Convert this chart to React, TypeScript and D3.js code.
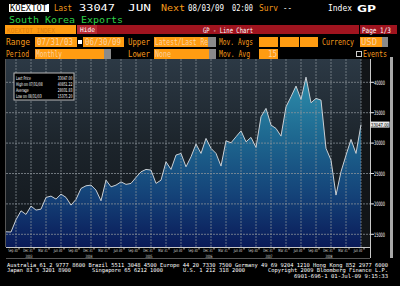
import React from 'react';
import * as d3 from 'd3';

// South Korea Exports, monthly, Jul 2003 .. Jun 2009
const startMonth = new Date(2003, 6, 1);
const exportsValues = [
  15410, 15375.2, 17400, 18860, 18270, 19640,
  18980, 19140, 21070, 21280, 20790, 21610, 21070, 19800, 20740, 22540, 22980, 23090,
  22270, 20510, 23910, 22810, 23090, 23630, 23210, 23370, 24360, 25280, 25670, 25560,
  23370, 23910, 26930, 25670, 28030, 28300, 26100, 27750, 29840, 28300, 30770, 29130,
  28310, 26220, 30380, 30050, 31040, 32020, 30210, 30940, 29290, 34330, 35710, 32960,
  32410, 31150, 35970, 37620, 39380, 37190, 40851.22, 36630, 37350, 37070, 29130, 27200,
  21450, 25300, 28000, 30600, 28300, 33047,
];
const yTicks = [15000, 20000, 25000, 30000, 35000, 40000];
const yearLabels = ['2003', '2004', '2005', '2006', '2007', '2008'];
const legendLabels = ['Last Price', 'High on 07/31/08', 'Average', 'Low on 08/31/03'];
const legendValues = ['33047.00', '40851.22', '28031.83', '15375.20'];
const footerLines = [
  'Australia 61 2 9777 8600 Brazil 5511 3048 4500 Europe 44 20 7330 7500 Germany 49 69 9204 1210 Hong Kong 852 2977 6000',
];

const ORANGE = '#f59a1b';
const BOX = '#ff9c12';
const BOXTXT = '#fbd2a0';
const FONT = "'DejaVu Sans Mono', monospace";

type TP = { x: number; y: number; w?: number; s?: number; fill?: string; anchor?: string; weight?: any; children: any; font?: string };
const T = ({ x, y, w, s = 8, fill = '#fff', anchor = 'start', weight = 'normal', children, font = FONT }: TP) => (
  <text x={x} y={y} fontSize={s} fill={fill} textAnchor={anchor} fontWeight={weight} fontFamily={font}
    {...(w ? { textLength: w, lengthAdjust: 'spacingAndGlyphs' } : {})}>{children}</text>
);

// horizontally compressed text (scaled group) for very narrow labels
const SqT = ({ x, y, sx, s, anchor = 'start', fill = '#fff', children }: { x: number; y: number; sx: number; s: number; anchor?: string; fill?: string; children: any }) => (
  <g transform={`translate(${x},${y}) scale(${sx},1)`}>
    <text x={0} y={0} fontSize={s} fill={fill} textAnchor={anchor} fontFamily="'DejaVu Sans', sans-serif">{children}</text>
  </g>
);

export default function App() {
  const months = exportsValues.map((_, i) => d3.timeMonth.offset(startMonth, i));
  const plotL = 6, plotR = 370, plotT = 59, plotB = 247;
  const x = d3.scalePoint<number>().domain(d3.range(exportsValues.length)).range([6, 361]);
  const y = d3.scaleLinear().domain([15000, 40000]).range([234.3, 82.3]);
  const area = d3.area<number>().x((_, i) => x(i)!).y0(plotB).y1(d => y(d));
  const line = d3.line<number>().x((_, i) => x(i)!).y(d => y(d));
  const quarterIdx = months.map((m, i) => ({ m, i })).filter(d => d.m.getMonth() % 3 === 2);
  const fmt = d3.timeFormat('%b %d');
  const monthEnd = (m: Date) => d3.timeDay.offset(d3.timeMonth.offset(m, 1), -1);
  const decIdx = quarterIdx.filter(d => d.m.getMonth() === 11);

  return (
    <svg width={400} height={286} style={{ position: 'absolute', left: 0, top: 0, display: 'block' }}>
      <defs>
        <linearGradient id="bgG" gradientUnits="userSpaceOnUse" x1="0" y1={plotT} x2="0" y2={plotB}>
          <stop offset="0" stopColor="#2c3945" />
          <stop offset="0.45" stopColor="#1c242b" />
          <stop offset="1" stopColor="#10151a" />
        </linearGradient>
        <linearGradient id="fillG" gradientUnits="userSpaceOnUse" x1="0" y1="77" x2="0" y2={plotB}>
          <stop offset="0" stopColor="#2e8eac" />
          <stop offset="0.35" stopColor="#1e6890" />
          <stop offset="0.7" stopColor="#144278" />
          <stop offset="1" stopColor="#0a1a58" />
        </linearGradient>
      </defs>
      <rect width={400} height={286} fill="#000" />

      {/* Header row 1 */}
      <rect x={9} y={4} width={40} height={8} fill="#fff" />
      <T x={10} y={11} w={37} fill="#000">KOEXTOT</T>
      <T x={54} y={11} w={18} fill={ORANGE}>Last</T>
      <T x={79} y={11} w={36}>33047</T>
      <T x={128} y={11} w={23}>JUN</T>
      <T x={161} y={11} w={24} fill={ORANGE}>Next</T>
      <T x={188} y={11} w={36}>08/03/09</T>
      <T x={232} y={11} w={21}>02:00</T>
      <T x={259} y={11} w={19} fill={ORANGE}>Surv</T>
      <T x={283} y={11} w={9}>--</T>
      <T x={328} y={11} w={24}>Index</T>
      <T x={357} y={11.5} w={19} s={9} weight="bold" font="'DejaVu Sans', sans-serif">GP</T>
      {/* Row 2 */}
      <T x={9} y={22.5} w={114} fill="#2fd048">South Korea Exports</T>
      {/* Row 3 band */}
      <rect x={5} y={25} width={71} height={9} fill={BOX} />
      <T x={7} y={32.5} w={48} s={7} fill="#e07e10">KOEXTOT INDEX</T>
      <rect x={77} y={25} width={320} height={9} fill="#a0141f" />
      <rect x={77} y={25} width={20} height={9} fill="#b82a33" />
      <T x={80} y={32} w={15} s={6.5}>Hide</T>
      <T x={203} y={32.5} w={50} s={7.5}>GP - Line Chart</T>
      <rect x={359} y={25} width={1} height={9} fill="#000" />
      <T x={362} y={32.5} w={29} s={7.5}>Page 1/3</T>
      {/* Row 4 */}
      <T x={6} y={45} w={24} fill={ORANGE}>Range</T>
      <rect x={35} y={37} width={42} height={10} fill={BOX} />
      <T x={37} y={45} w={36} fill={BOXTXT}>07/31/03</T>
      <rect x={78} y={40} width={4} height={4} fill="#fff" />
      <rect x={83} y={37} width={41} height={10} fill={BOX} />
      <T x={85} y={45} w={36} fill={BOXTXT}>06/30/09</T>
      <T x={128} y={45} w={22} fill={ORANGE}>Upper</T>
      <rect x={154} y={37} width={54} height={10} fill={BOX} />
      <rect x={208} y={37} width={8} height={10} fill="#8a8a8a" />
      <T x={155} y={45} w={53} fill={BOXTXT}>Latest/Last Re</T>
      <T x={219} y={45} w={34} fill={ORANGE}>Mov. Avgs</T>
      <rect x={259} y={37} width={19} height={10} fill={BOX} />
      <rect x={280} y={37} width={19} height={10} fill={BOX} />
      <rect x={300} y={37} width={18} height={10} fill={BOX} />
      <T x={322} y={45} w={32} fill={ORANGE}>Currency</T>
      <rect x={360} y={37} width={22} height={10} fill={BOX} />
      <rect x={382} y={37} width={6} height={10} fill="#8a8a8a" />
      <T x={361} y={45} w={16} fill={BOXTXT}>USD</T>
      {/* Row 5 */}
      <T x={6} y={57} w={23} fill={ORANGE}>Period</T>
      <rect x={35} y={49} width={69} height={10} fill={BOX} />
      <rect x={104} y={49} width={7} height={10} fill="#8a8a8a" />
      <T x={36} y={57} w={26} fill={BOXTXT}>Monthly</T>
      <T x={128} y={57} w={22} fill={ORANGE}>Lower</T>
      <rect x={154} y={49} width={55} height={10} fill={BOX} />
      <rect x={209} y={49} width={7} height={10} fill="#8a8a8a" />
      <T x={155} y={57} w={16} fill={BOXTXT}>None</T>
      <T x={219} y={57} w={31} fill={ORANGE}>Mov. Avg</T>
      <rect x={259} y={49} width={19} height={10} fill={BOX} />
      <T x={277} y={57} w={9} anchor="end" fill={BOXTXT}>15</T>
      <rect x={356.5} y={51.5} width={5} height={5} fill="none" stroke="#ccc" strokeWidth={1} />
      <T x={363} y={57} w={24} fill={ORANGE}>Events</T>

      {/* Plot */}
      <rect x={plotL} y={plotT} width={plotR - plotL} height={plotB - plotT} fill="url(#bgG)" />
      <rect x={361} y={plotT} width={9} height={plotB - plotT} fill="#121518" />
      <path d={area(exportsValues)!} fill="url(#fillG)" />
      {yTicks.map(t => (
        <line key={t} x1={plotL} x2={373} y1={y(t)} y2={y(t)} stroke="#8c949b" strokeOpacity={0.75} strokeWidth={1} strokeDasharray="2,1" />
      ))}
      {quarterIdx.map(d => (
        <line key={d.i} x1={x(d.i)} x2={x(d.i)} y1={plotT} y2={plotB} stroke="#8c949b" strokeOpacity={0.7} strokeWidth={1} strokeDasharray="2,1" />
      ))}
      <path d={line(exportsValues)!} fill="none" stroke="#c9cfd4" strokeWidth={1} />
      <line x1={5.5} x2={5.5} y1={plotT} y2={plotB} stroke="#555" />

      {/* Legend */}
      <rect x={14} y={73} width={60} height={27} fill="#000" stroke="#b8b8b8" strokeWidth={1} />
      {legendLabels.map((lab, k) => (
        <g key={k}>
          <SqT x={16} y={79.5 + k * 6} s={5} sx={0.62}>{lab}</SqT>
          <SqT x={72.5} y={79.5 + k * 6} s={5} sx={0.62} anchor="end">{legendValues[k]}</SqT>
        </g>
      ))}

      {/* Right axis */}
      <line x1={370.5} x2={370.5} y1={plotT} y2={258} stroke="#c8c8c8" />
      <rect x={390} y={plotT - 2} width={3} height={201} fill="#a8a8a8" />
      {yTicks.map(t => (
        <g key={t}>
          <line x1={370} x2={374} y1={y(t)} y2={y(t)} stroke="#ddd" />
          <T x={374} y={y(t) + 2.3} s={6} w={11} font="'DejaVu Sans', sans-serif">{String(t)}</T>
        </g>
      ))}
      <rect x={370.5} y={y(33047) - 3} width={19} height={6} fill="#e8e8e8" />
      <T x={371} y={y(33047) + 2} s={5.5} w={18} fill="#000" font="'DejaVu Sans', sans-serif">33047.00</T>

      {/* Bottom axis */}
      <line x1={plotL} x2={370} y1={247.5} y2={247.5} stroke="#c8c8c8" />
      <line x1={plotL} x2={370} y1={258.5} y2={258.5} stroke="#555" />
      {quarterIdx.map(d => (
        <g key={d.i}>
          <SqT x={x(d.i)! - 3} y={251.5} s={4.5} sx={0.6} anchor="middle" fill="#ddd">{fmt(monthEnd(d.m))}</SqT>
          <line x1={x(d.i)! + 3} x2={x(d.i)! + 3} y1={248} y2={249.5} stroke="#ccc" />
        </g>
      ))}
      {decIdx.map((d, k) => (
        <SqT key={k} x={x(d.i)! - 2} y={257.5} s={4.5} sx={0.6} anchor="middle" fill="#ddd">{yearLabels[k]}</SqT>
      ))}

      {/* Footer */}
      <T x={7} y={266.5} s={5.5} w={381}>{footerLines[0]}</T>
      <T x={7} y={272} s={5.5} w={64}>Japan 81 3 3201 8900</T>
      <T x={92} y={272} s={5.5} w={71}>Singapore 65 6212 1000</T>
      <T x={183} y={272} s={5.5} w={62}>U.S. 1 212 318 2000</T>
      <T x={268} y={272} s={5.5} w={120}>Copyright 2009 Bloomberg Finance L.P.</T>
      <T x={294} y={277.5} s={5.5} w={94}>6901-696-1 01-Jul-09 9:15:33</T>
    </svg>
  );
}
